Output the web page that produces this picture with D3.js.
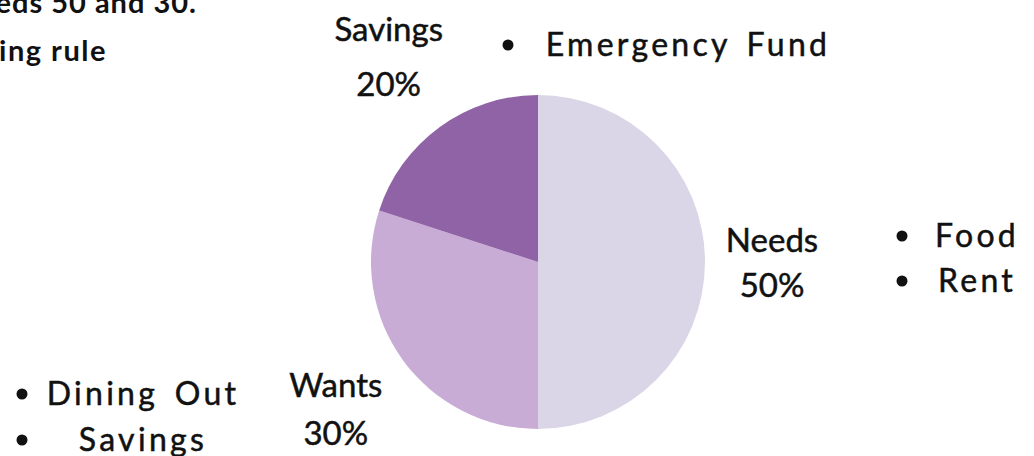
<!DOCTYPE html>
<html>
<head>
<meta charset="utf-8">
<script src="https://cdn.jsdelivr.net/npm/d3@7"></script>
<style>
  body { margin: 0; background: #fff; overflow: hidden; }
  text { font-family: Lato, "Noto Sans", sans-serif; fill: #111; }
</style>
</head>
<body>
<svg id="chart"></svg>
<script>
// budget split (50/30/20 rule)
var categories = ["Needs", "Wants", "Savings"];
var values = [50, 30, 20];
var colors = ["#dad6e7", "#c8acd6", "#8f63a5"];

// bullet lists that sit next to each slice
var needsItems = ["Food", "Rent"];
var wantsItems = ["Dining Out", "Savings"];
var savingsItems = ["Emergency Fund"];

// label placement per slice (distance from centre, gap between the two lines)
var labelRadius = [234, 250, 254];
var labelGap = [45, 48, 55];

var width = 1034, height = 456;
var cx = 538, cy = 262, radius = 167;

var svg = d3.select("#chart")
    .attr("width", width)
    .attr("height", height);

// slide text, cut off at the left / top edge
svg.append("text")
    .attr("x", 197).attr("y", 13)
    .attr("text-anchor", "end")
    .style("font-size", "29px").style("font-weight", "bold")
    .style("letter-spacing", "1px")
    .text("Needs 50 and 30.");
svg.append("text")
    .attr("x", 107).attr("y", 61)
    .attr("text-anchor", "end")
    .style("font-size", "29px").style("font-weight", "bold")
    .style("letter-spacing", "1.5px")
    .text("budgeting rule");

var table = categories.map(function(c, i) {
    return { name: c, value: values[i], color: colors[i], r: labelRadius[i], gap: labelGap[i] };
});

var pie = d3.pie().sort(null).value(function(d) { return d.value; });
var arc = d3.arc().innerRadius(0).outerRadius(radius);

var g = svg.append("g").attr("transform", "translate(" + cx + "," + cy + ")");

var arcs = pie(table);

g.selectAll("path")
    .data(arcs)
    .join("path")
    .attr("d", arc)
    .attr("fill", function(d) { return d.data.color; });

// two line labels: name and percentage
var labels = g.selectAll(".slice-label")
    .data(arcs)
    .join("g")
    .attr("class", "slice-label")
    .attr("transform", function(d) {
        var c = d3.arc().innerRadius(d.data.r).outerRadius(d.data.r).centroid(d);
        return "translate(" + c[0] + "," + c[1] + ")";
    });

labels.append("text")
    .attr("y", function(d) { return -d.data.gap / 2 + 12; })
    .attr("text-anchor", "middle")
    .style("font-size", "33px")
    .style("stroke", "#111").style("stroke-width", 0.5)
    .text(function(d) { return d.data.name; });

labels.append("text")
    .attr("y", function(d) { return d.data.gap / 2 + 12; })
    .attr("text-anchor", "middle")
    .style("font-size", "33px")
    .style("stroke", "#111").style("stroke-width", 0.5)
    .text(function(d) { return d.data.value + "%"; });

// bullet lists
function bulletList(items, bx, tx, y0, step) {
    var list = svg.append("g");
    items.forEach(function(item, i) {
        var y = y0 + i * step;
        list.append("circle")
            .attr("cx", bx).attr("cy", y - 11)
            .attr("r", 5.5).attr("fill", "#111");
        list.append("text")
            .attr("x", tx).attr("y", y)
            .attr("text-anchor", "middle")
            .style("font-size", "32px")
            .style("letter-spacing", "3.3px")
            .style("word-spacing", "5px")
            .style("stroke", "#111").style("stroke-width", 0.5)
            .text(item);
    });
}

bulletList(savingsItems, 508, 688, 56, 44);
bulletList(needsItems, 902, 977, 247, 45);
bulletList(wantsItems, 22, 143, 405, 46);
</script>
</body>
</html>
